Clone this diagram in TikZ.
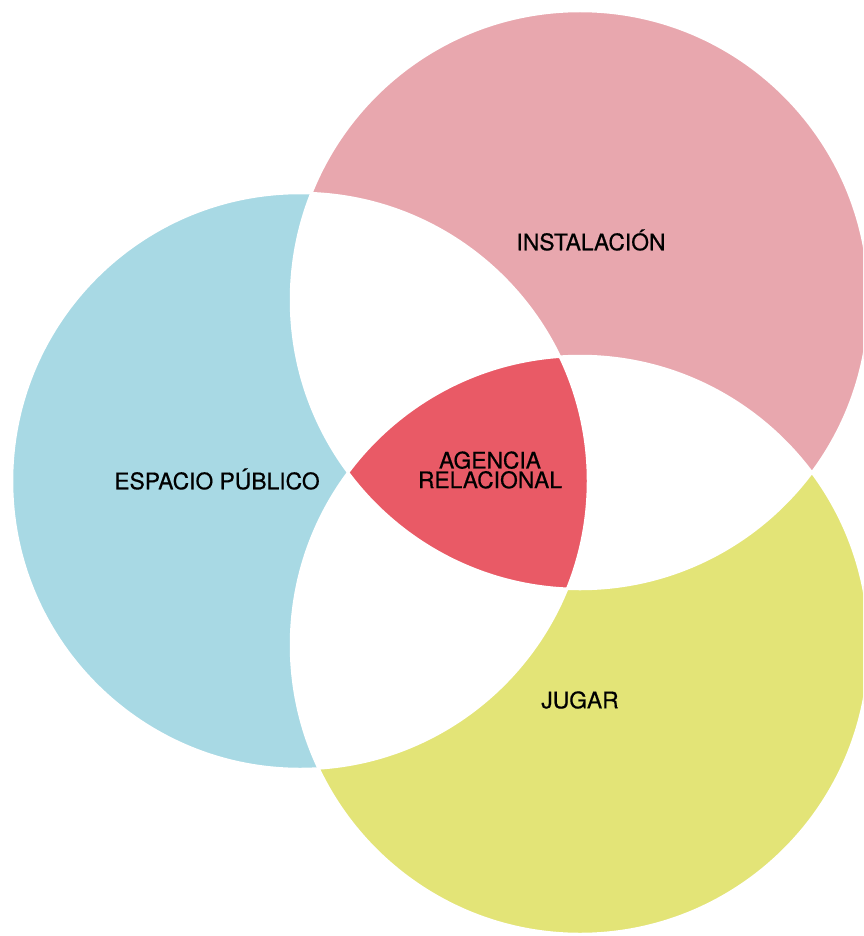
\documentclass[tikz,border=0pt]{standalone}
\usepackage{fontspec}
\setmainfont{TeX Gyre Heros}
\newfontfamily\lblfont{TeX Gyre Heros}[FakeBold=0.5]
\definecolor{cblue}{HTML}{A8D9E4}
\definecolor{cpink}{HTML}{E8A7AE}
\definecolor{cyellow}{HTML}{E3E477}
\definecolor{cred}{HTML}{E95A66}
\begin{document}
\begin{tikzpicture}[x=0.02cm,y=-0.02cm,
  lbl/.style={font=\lblfont\fontsize{13}{11.2}\selectfont, text=black, align=center, inner sep=0pt},
  sep/.style={draw=white, line width=0.05cm}]
\useasboundingbox (0,0) rectangle (863,936);
\clip (0,0) rectangle (863,936);
\coordinate (B) at (300,481);
\coordinate (P) at (580,300);
\coordinate (Y) at (580,645);
\def\rB{288}\def\rP{289}\def\rY{289}
% base circles
\fill[cblue] (B) circle[radius=\rB];
\fill[cpink] (P) circle[radius=\rP];
\fill[cyellow] (Y) circle[radius=\rY];
% pairwise overlaps white
\begin{scope}
  \clip (B) circle[radius=\rB];
  \fill[white] (P) circle[radius=\rP];
  \fill[white] (Y) circle[radius=\rY];
\end{scope}
\begin{scope}
  \clip (P) circle[radius=\rP];
  \fill[white] (Y) circle[radius=\rY];
\end{scope}
% triple overlap red
\begin{scope}
  \clip (B) circle[radius=\rB];
  \clip (P) circle[radius=\rP];
  \fill[cred] (Y) circle[radius=\rY];
\end{scope}
% thin white separations
\draw[sep] (B) circle[radius=\rB];
\draw[sep] (P) circle[radius=\rP];
\draw[sep] (Y) circle[radius=\rY];
% labels
\node[lbl] (inst) at (591,240) {INSTALACIÓN};
\node[lbl] (esp) at (217,479) {ESPACIO PÚBLICO};
\node[lbl] (ag) at (490,470) {AGENCIA\\RELACIONAL};
\node[lbl] (jug) at (580,700) {JUGAR};
\end{tikzpicture}
\end{document}
